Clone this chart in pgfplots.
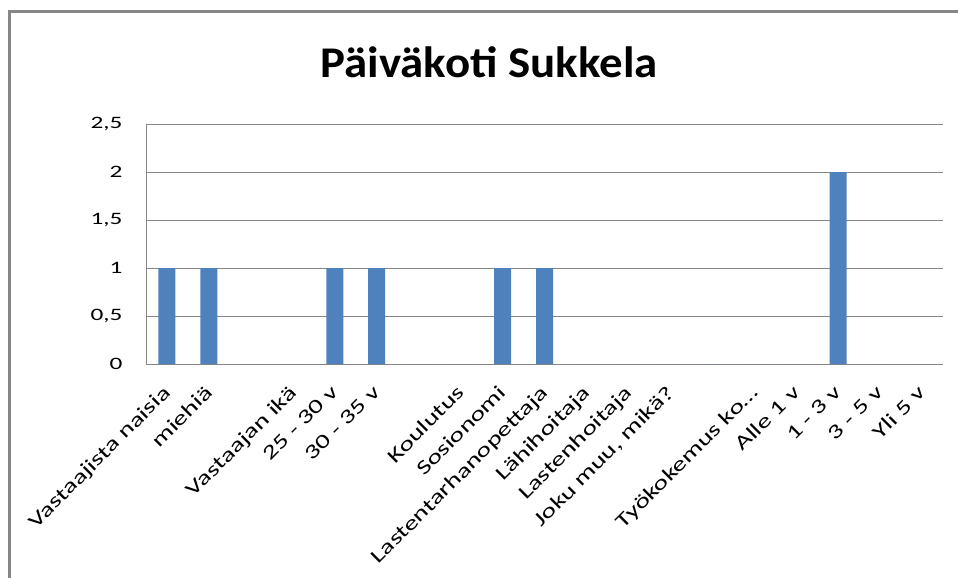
\documentclass[border=0pt]{standalone}
\usepackage{pgfplots}
\pgfplotsset{compat=1.18}
\usepackage{fontspec}
\setmainfont{Carlito}
\newfontfamily\tickfont[FakeStretch=1.45]{Carlito}
\newfontfamily\xtickfont[FakeStretch=1.4]{Carlito}
\definecolor{barblue}{HTML}{4F81BD}
\definecolor{gridgray}{HTML}{868686}
\begin{document}
\begin{tikzpicture}[x=1bp,y=1bp]
\useasboundingbox (0,0) rectangle (958,-578);
\draw[gridgray, line width=3bp] (9.5,-578) -- (9.5,-11.5) -- (958,-11.5);
\node[font=\fontsize{44}{50}\selectfont\bfseries, xscale=1.07] at (489,-62) {Päiväkoti Sukkela};
\begin{axis}[
  at={(146bp,-364bp)}, anchor=south west,
  scale only axis, width=797bp, height=240bp,
  ybar, bar width=17bp,
  xmin=-0.5, xmax=18.5, ymin=0, ymax=2.5,
  ytick={0,0.5,...,2.5},
  xtick=data,
  xticklabels={Vastaajista naisia, miehiä, {}, Vastaajan ikä, 25 - 30 v, 30 - 35 v, {}, Koulutus, Sosionomi, Lastentarhanopettaja, Lähihoitaja, Lastenhoitaja, {Joku muu, mikä?}, {}, Työkokemus ko…, Alle 1 v, 1 - 3 v, 3 - 5 v, Yli 5 v},
  x tick label style={rotate=45, anchor=north east, font=\xtickfont\fontsize{20}{22}\selectfont, inner sep=1bp, xshift=-16.5bp, yshift=-9.5bp},
  y tick label style={font=\tickfont\fontsize{17.5}{20}\selectfont},
  /pgf/number format/assume math mode=true,
  /pgf/number format/use comma,
  yticklabel style={xshift=-20bp},
  major tick length=0pt,
  axis x line*=bottom, axis y line*=left,
  axis line style={gridgray, line width=1bp, -},
  ymajorgrids, grid style={gridgray, line width=1bp},
]
\addplot[fill=barblue, draw=none] coordinates {
(0,1) (1,1) (2,0) (3,0) (4,1) (5,1) (6,0) (7,0) (8,1) (9,1)
(10,0) (11,0) (12,0) (13,0) (14,0) (15,0) (16,2) (17,0) (18,0)};
\end{axis}
\end{tikzpicture}
\end{document}
